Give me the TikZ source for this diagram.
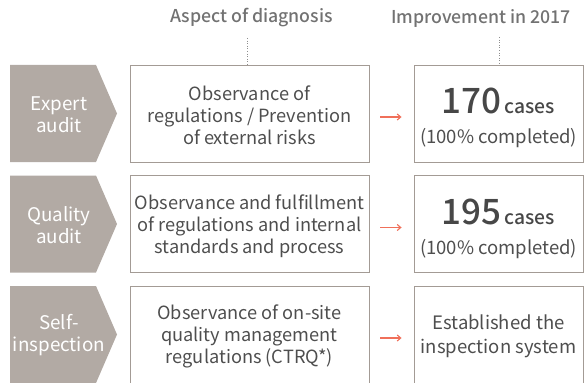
\documentclass[tikz,border=0pt]{standalone}
\usepackage{fontspec}
\setmainfont{Noto Sans CJK KR}
\newfontfamily\medfont{Noto Sans CJK KR Medium}
\usetikzlibrary{arrows.meta}
\definecolor{chev}{HTML}{B2AAA4}
\definecolor{bord}{HTML}{A39B95}
\definecolor{txt}{HTML}{4E4E4E}
\definecolor{hdr}{HTML}{727272}
\definecolor{arr}{HTML}{F0705A}
\definecolor{num}{HTML}{474747}
\tikzset{
  chevtext/.style={text=white,font=\fontsize{18.8}{22}\selectfont,align=center},
  midbox/.style={draw=bord,line width=0.9pt,minimum width=239pt,minimum height=97pt,text=txt,align=center,font=\fontsize{18.2}{22.2}\selectfont,inner sep=0pt},
  rbox/.style={draw=bord,line width=0.9pt,minimum width=169pt,minimum height=97pt,text=txt,align=center,font=\fontsize{18.5}{24.5}\selectfont,inner sep=0pt},
  rtext/.style={text=txt,align=center,font=\fontsize{18.5}{24}\selectfont,inner sep=0pt},
  bodytext/.style={text=txt,align=center,font=\fontsize{18.2}{22.2}\selectfont,inner sep=0pt},
  hdrtext/.style={text=hdr,font=\medfont\fontsize{17.7}{20}\selectfont},
  dotline/.style={draw=hdr!80,dotted,line width=0.6pt},
  arrline/.style={draw=arr,line width=1.1pt,-{Straight Barb[length=3.5pt,width=6pt]}},
}
\newcommand{\bignum}[1]{{\medfont\color{num}\fontsize{35}{35}\selectfont #1}\,{\medfont\color{num}\fontsize{19.3}{22}\selectfont cases}}
\begin{document}
\begin{tikzpicture}[x=1pt,y=1pt]
\useasboundingbox (0,0) rectangle (585,-382);
% headers
\node[hdrtext] (h1) at (251.5,-18) {Aspect of diagnosis};
\node[hdrtext] (h2) at (481,-18) {Improvement in 2017};
% chevrons
\foreach \i/\t in {1/65,2/175.5,3/286}{
  \fill[chev] (10,-\t) -- (96,-\t) -- (117,-\t-48.5) -- (96,-\t-97) -- (10,-\t-97) -- cycle;
}
\node[chevtext] (k1) at (59,-114.5) {Expert\\audit};
\node[chevtext] (k2) at (59,-225) {Quality\\audit};
\node[chevtext] (k3) at (59,-335.5) {Self-\\inspection};
% middle boxes
\node[midbox] (m1) at (249.5,-113.5) {};
\node[midbox] (m2) at (249.5,-224) {};
\node[midbox] (m3) at (249.5,-334.5) {};
\node[bodytext] (t1) at ([yshift=-2pt]m1.center) {Observance of\\regulations / Prevention\\of external risks};
\node[bodytext] (t2) at ([yshift=-2pt]m2.center) {Observance and fulfillment\\of regulations and internal\\standards and process};
\node[bodytext] (t3) at ([yshift=-2pt]m3.center) {Observance of on-site\\quality management\\regulations (CTRQ*)};
% right boxes
\node[rbox] (r1) at (498.5,-113.5) {};
\node[rbox] (r2) at (498.5,-224) {};
\node[rbox] (r3) at (498.5,-334.5) {};
\node[rtext] (u1) at ([yshift=-4.5pt]r1.center) {\bignum{170}\\[6pt](100\% completed)};
\node[rtext] (u2) at ([yshift=-4.5pt]r2.center) {\bignum{195}\\[6pt](100\% completed)};
\node[rtext] (u3) at ([yshift=-2pt]r3.center) {Established the\\inspection system};
% dotted lines
\draw[dotline] (247,-38) -- (m1.north -| 247,0);
\draw[dotline] (499,-37) -- (r1.north -| 499,0);
% arrows
\foreach \i in {1,2,3}{
  \draw[arrline,shorten <=11pt,shorten >=12pt] ([yshift=-3.5pt]m\i.east) -- ([yshift=-3.5pt]r\i.west);
}
\end{tikzpicture}
\end{document}
